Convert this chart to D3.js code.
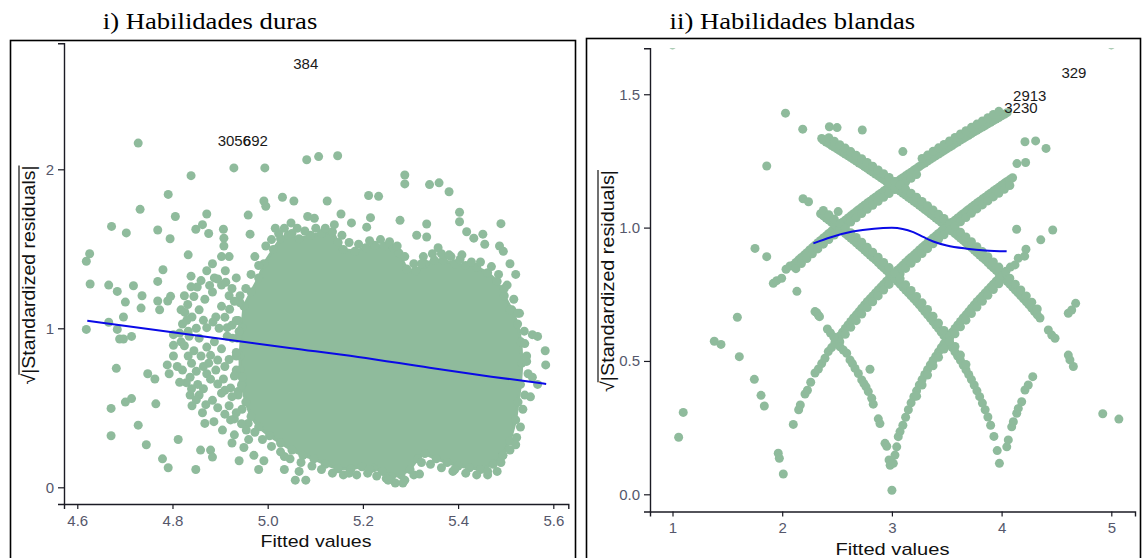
<!DOCTYPE html>
<html>
<head>
<meta charset="utf-8">
<script src="https://cdn.jsdelivr.net/npm/d3@7"></script>
<style>
  body { margin: 0; background: #fff; }
  svg { display: block; }
</style>
</head>
<body>
<svg id="chart" width="1142" height="558"></svg>
<script>
// ---------- axis ticks ----------
const durasXTicks = [4.6, 4.8, 5.0, 5.2, 5.4, 5.6];
const durasYTicks = [0, 1, 2];
const blandasXTicks = [1, 2, 3, 4, 5];
const blandasYTicks = [0, 0.5, 1.0, 1.5];

// ---------- i) Habilidades duras ----------
// outline of the overplotted mass of observations (fitted, sqrt|std resid|)
const durasCloudEdge = [
  [4.942,0.826],[4.946,1.004],[4.950,1.138],[4.965,1.228],[4.981,1.317],[4.992,1.406],[5.012,1.496],
  [5.027,1.563],[5.043,1.585],[5.066,1.563],[5.090,1.585],[5.113,1.596],[5.136,1.607],[5.148,1.540],
  [5.159,1.496],[5.183,1.484],[5.206,1.507],[5.225,1.522],[5.245,1.518],[5.264,1.507],[5.276,1.473],
  [5.292,1.373],[5.311,1.362],[5.330,1.406],[5.350,1.429],[5.369,1.429],[5.393,1.406],[5.416,1.395],
  [5.439,1.384],[5.462,1.350],[5.482,1.295],[5.497,1.205],[5.513,1.116],[5.525,1.027],[5.532,0.915],
  [5.534,0.781],[5.531,0.647],[5.526,0.536],[5.521,0.424],[5.509,0.290],[5.494,0.201],[5.474,0.145],
  [5.447,0.112],[5.424,0.123],[5.400,0.134],[5.377,0.156],[5.354,0.179],[5.330,0.212],[5.315,0.179],
  [5.299,0.112],[5.280,0.078],[5.260,0.067],[5.241,0.100],[5.222,0.123],[5.198,0.129],[5.175,0.116],
  [5.148,0.116],[5.121,0.145],[5.097,0.179],[5.074,0.201],[5.051,0.234],[5.027,0.279],[5.004,0.324],
  [4.981,0.379],[4.965,0.446],[4.954,0.536],[4.946,0.647],[4.942,0.737]
];
// observations along the rim of the mass
const durasRim = [
  [4.973,1.451],[4.996,1.518],[5.008,1.558],[5.023,1.596],[5.035,1.629],[5.051,1.596],[5.062,1.629],
  [5.078,1.612],[5.101,1.629],[5.121,1.629],[5.140,1.652],[5.156,1.585],[5.171,1.540],[5.191,1.529],
  [5.214,1.551],[5.237,1.558],[5.256,1.545],[5.272,1.518],[5.288,1.451],[5.307,1.406],[5.327,1.451],
  [5.346,1.469],[5.365,1.469],[5.385,1.451],[5.404,1.433],[5.428,1.417],[5.447,1.417],[5.470,1.388],
  [5.485,1.339],[5.503,1.272],[5.517,1.183],[5.529,1.094],[5.539,0.982],[5.544,0.826],[5.547,0.714],
  [5.540,0.580],[5.536,0.491],[5.531,0.379],[5.523,0.313],[5.509,0.234],[5.490,0.156],[5.462,0.078],
  [5.439,0.078],[5.416,0.089],[5.389,0.100],[5.365,0.123],[5.342,0.145],[5.323,0.156],[5.307,0.078],
  [5.288,0.045],[5.268,0.027],[5.249,0.056],[5.229,0.071],[5.210,0.089],[5.187,0.078],[5.159,0.078],
  [5.136,0.089],[5.113,0.112],[5.093,0.134],[5.070,0.156],[5.047,0.179],[5.027,0.223],[5.008,0.257],
  [4.989,0.301],[4.973,0.346],[4.959,0.402],[4.946,0.491],[4.938,0.603],[4.933,0.714],[4.934,0.826],
  [4.936,0.938],[4.938,1.049],[4.942,1.161],[4.954,1.250],[4.965,1.339],[4.981,1.395]
];
// looser group of observations left of the mass
const durasLeftGroup = [
  [4.821,1.027],[4.841,1.071],[4.856,1.116],[4.868,1.183],[4.884,1.228],[4.903,1.272],[4.919,1.205],
  [4.903,1.138],[4.891,1.071],[4.872,1.004],[4.856,0.938],[4.845,0.859],[4.860,0.826],[4.876,0.781],
  [4.891,0.737],[4.907,0.681],[4.922,0.625],[4.934,0.737],[4.919,0.804],[4.903,0.871],[4.888,0.915],
  [4.872,0.882],[4.833,0.826],[4.821,0.737],[4.837,0.692],[4.853,0.647],[4.872,0.714],[4.926,0.938],
  [4.915,1.004],[4.934,1.049],[4.872,1.362],[4.888,1.317],[4.911,1.362],[4.919,1.451],[4.884,1.406],
  [4.903,1.451],[4.934,1.317],[4.942,1.205],[4.825,1.205],[4.818,1.116],[4.833,0.982],[4.818,0.915],
  [4.934,0.848],[4.946,0.692],[4.938,0.580],[4.919,0.513],[4.837,0.580],[4.856,0.580],[4.802,0.826],
  [4.829,0.658],
  [4.826,1.100],[4.832,1.150],[4.845,1.200],[4.852,1.260],[4.860,1.300],[4.878,1.270],[4.895,1.310],
  [4.912,1.290],[4.925,1.250],[4.930,1.170],[4.920,1.120],[4.910,1.070],[4.925,1.020],[4.940,0.980],
  [4.915,0.950],[4.898,1.000],[4.885,1.040],[4.865,1.050],[4.850,1.000],[4.835,0.950],[4.825,0.890],
  [4.840,0.780],[4.850,0.730],[4.865,0.760],[4.880,0.830],[4.895,0.800],[4.910,0.760],[4.930,0.700],
  [4.945,0.640],[4.925,0.570],[4.910,0.610],[4.895,0.650],[4.880,0.680],[4.865,0.620],[4.850,0.550],
  [4.870,0.520],[4.895,0.500],[4.910,0.460],[4.930,0.430],[4.945,0.400],[4.955,0.360],[4.960,0.300],
  [4.950,0.250],[4.930,0.330],[4.905,0.360],[4.840,0.620],[4.815,0.660],[4.810,0.760],[4.815,0.970],
  [4.830,1.050]
];
// scattered observations
const durasScatter = [
  [4.728,2.165],[4.839,1.960],[4.929,2.009],[4.994,2.009],[5.082,2.060],[5.107,2.080],[5.147,2.085],
  [4.791,1.842],[4.732,1.748],[4.672,1.641],[4.703,1.600],[4.769,1.618],[4.806,1.703],[4.795,1.563],
  [4.849,1.623],[4.863,1.652],[4.872,1.719],[4.876,1.596],[4.907,1.623],[4.908,1.567],[4.908,1.518],
  [4.959,1.712],[4.963,1.592],[4.992,1.801],[4.996,1.768],[5.031,1.824],[5.055,1.801],[5.125,1.801],
  [5.084,1.703],[5.098,1.692],[5.049,1.663],[5.016,1.629],[5.154,1.719],[5.176,1.663],[5.212,1.835],
  [5.233,1.830],[5.216,1.696],[5.208,1.636],[5.278,1.679],[5.288,1.964],[5.288,1.908],[5.340,1.904],
  [5.360,1.915],[5.381,1.859],[5.334,1.656],[5.313,1.585],[5.334,1.574],[5.403,1.730],[5.403,1.670],
  [5.418,1.607],[5.490,1.658],[5.452,1.592],[5.433,1.567],[5.456,1.529],[5.487,1.518],[5.495,1.484],
  [5.509,1.406],[5.521,1.339],[5.358,1.507],[5.381,1.462],[5.408,1.462],[5.323,1.406],[5.497,1.250],
  [5.509,1.116],[5.525,1.094],[5.540,0.904],[5.556,0.960],[5.567,0.949],[5.583,0.859],[5.584,0.770],
  [5.544,0.792],[5.556,0.692],[5.552,0.569],[5.567,0.647],[5.521,0.268],[5.494,0.200],[5.462,0.100],
  [5.482,0.100],[5.393,0.112],[5.319,0.083],[5.284,0.027],[5.253,0.045],[5.214,0.112],[5.171,0.089],
  [5.058,0.045],[5.080,0.045],[5.035,0.112],[5.066,0.100],[5.035,0.194],
  [4.626,1.469],[4.619,1.422],[4.627,1.279],[4.619,0.993],[4.666,1.272],[4.684,1.232],[4.701,1.165],
  [4.697,1.071],[4.718,1.268],[4.736,1.205],[4.734,1.127],[4.666,1.038],[4.684,0.993],[4.689,0.933],
  [4.697,0.933],[4.714,0.949],[4.682,0.748],[4.671,0.496],[4.671,0.324],[4.701,0.536],[4.714,0.558],
  [4.728,0.391],[4.748,0.714],[4.763,0.681],[4.765,0.525],[4.745,0.268],[4.779,0.179],[4.791,0.123],
  [4.812,0.301],[4.789,0.770],[4.793,0.714],[4.802,0.893],[4.802,0.960],[4.769,1.295],[4.769,1.172],
  [4.773,1.116],[4.790,1.172],[4.796,1.201],[4.780,1.368],[4.833,1.462],[4.839,1.328],[4.839,1.261],
  [4.849,0.112],[4.859,0.234],[4.880,0.234],[4.884,0.190],[4.841,0.513],[4.863,0.469],[4.884,0.547],
  [4.903,0.592],[4.925,0.279],[4.940,0.167],[4.971,0.201],[4.992,0.167],[4.981,0.112],[4.922,0.424],
  [4.934,0.469],[4.887,0.413],[4.868,0.402]
];
// loess smooth
const durasSmoothX = [4.621, 4.800, 5.050, 5.190, 5.340, 5.470, 5.585];
const durasSmoothY = [1.048, 0.975, 0.875, 0.820, 0.752, 0.696, 0.650];
// labelled observations
const durasLabels = [
  { id: "384",  x: 5.080, y: 2.663 },
  { id: "3056", x: 4.930, y: 2.179 },
  { id: "692",  x: 4.974, y: 2.179 }
];

// ---------- ii) Habilidades blandas ----------
const blandasRiseA = [
  [1.919,0.791],[1.950,0.801],[1.995,0.810],[2.035,0.844],[2.071,0.856],
  [2.10,0.859],[2.15,0.879],[2.20,0.897],[2.25,0.916],[2.30,0.934],[2.35,0.952],[2.40,0.969],[2.45,0.987],
  [2.50,1.003],[2.55,1.020],[2.60,1.036],[2.65,1.052],[2.70,1.068],[2.75,1.084],[2.80,1.099],[2.85,1.114],
  [2.90,1.129],[2.95,1.144],[3.00,1.159],[3.05,1.173],[3.10,1.187],[3.15,1.201],[3.20,1.215],[3.25,1.229],
  [3.30,1.242],[3.35,1.256],[3.40,1.269],[3.45,1.282],[3.50,1.295],[3.55,1.308],[3.60,1.321],[3.65,1.334],
  [3.70,1.346],[3.75,1.359],[3.80,1.371],[3.85,1.383],[3.90,1.395],[3.95,1.407],[4.00,1.419],[4.05,1.431],
  [2.125,0.869],[2.175,0.888],[2.225,0.906],[2.275,0.925],[2.325,0.943],[2.375,0.961],[2.425,0.978],
  [2.475,0.995],[2.525,1.012],[2.575,1.028],[2.625,1.044],[2.675,1.060],[2.725,1.076],[2.775,1.092],
  [2.825,1.107],[2.875,1.122],[2.925,1.137],[2.975,1.151],[3.025,1.166],[3.075,1.180],[3.125,1.194],
  [3.175,1.208],[3.225,1.222],[3.275,1.236],[3.325,1.249],[3.375,1.263],[3.425,1.276],[3.475,1.289],
  [3.525,1.302],[3.575,1.315],[3.625,1.328],[3.675,1.340],[3.725,1.353],[3.775,1.365],[3.825,1.377],
  [3.875,1.389],[3.925,1.401],[3.975,1.413],[4.025,1.425],
  [2.125,0.846],[2.175,0.865],[2.225,0.884],[2.275,0.902],[2.325,0.920],[2.375,0.938],[2.425,0.955],
  [2.475,0.972],[2.525,0.989],[2.575,1.005],[2.625,1.021],[2.675,1.037],[2.725,1.053],[2.775,1.069],
  [2.825,1.084],[2.875,1.099],[2.925,1.114],[2.975,1.128],[3.025,1.143],[3.075,1.157],[3.125,1.171],
  [3.175,1.185],[3.225,1.199],[3.275,1.259],[3.325,1.272],[3.375,1.286],[3.425,1.299],[3.475,1.312],
  [3.525,1.325],[3.575,1.338],[3.625,1.351],[3.675,1.363],[3.725,1.376],[3.775,1.388],[3.825,1.400],
  [3.875,1.412],[3.925,1.424],[3.975,1.436]
];
const blandasFallA = [
  [2.36,1.334],[2.40,1.321],[2.45,1.308],[2.50,1.295],[2.55,1.282],[2.60,1.269],[2.65,1.256],[2.70,1.242],
  [2.75,1.229],[2.80,1.215],[2.85,1.201],[2.90,1.187],[2.95,1.173],[3.00,1.159],[3.05,1.144],[3.10,1.129],
  [3.15,1.114],[3.20,1.099],[3.25,1.084],[3.30,1.068],[3.35,1.052],[3.40,1.036],[3.45,1.020],[3.50,1.003],
  [3.55,0.987],[3.60,0.969],[3.65,0.952],[3.70,0.934],[3.75,0.916],[3.80,0.897],[3.85,0.879],[3.90,0.859],
  [3.95,0.840],[4.00,0.819],[4.05,0.799],[4.10,0.777],[4.15,0.755],[4.20,0.733],[4.25,0.710],[4.30,0.685],
  [4.35,0.661],[4.426,0.616],[4.457,0.597],[4.487,0.585],[4.608,0.522],[4.623,0.504],[4.654,0.479],
  [2.375,1.328],[2.425,1.315],[2.475,1.302],[2.525,1.289],[2.575,1.276],[2.625,1.263],[2.675,1.249],
  [2.725,1.236],[2.775,1.222],[2.825,1.208],[2.875,1.194],[2.925,1.180],[2.975,1.166],[3.025,1.151],
  [3.075,1.137],[3.125,1.122],[3.175,1.107],[3.225,1.092],[3.275,1.076],[3.325,1.060],[3.375,1.044],
  [3.425,1.028],[3.475,1.012],[3.525,0.995],[3.575,0.978],[3.625,0.961],[3.675,0.943],[3.725,0.925],
  [3.775,0.906],[3.825,0.888],[3.875,0.869],[3.925,0.849],[3.975,0.830],[4.025,0.809],[4.075,0.788],
  [4.125,0.766],[4.175,0.744],[4.225,0.722],[4.275,0.698],[4.325,0.673],
  [2.425,1.337],[2.475,1.324],[2.525,1.311],[2.575,1.298],[2.625,1.285],[2.675,1.271],[2.725,1.258],
  [2.775,1.244],[2.825,1.230],[2.875,1.216],[2.925,1.202],[2.975,1.188],[3.025,1.173],[3.075,1.159],
  [3.125,1.144],[3.175,1.129],[3.225,1.114],[3.275,1.098],[3.325,1.082],[3.375,1.066],[3.425,1.050],
  [3.475,1.034],[3.525,1.017],[3.575,1.000],[3.625,0.983],[3.675,0.965],[3.725,0.947],[3.775,0.928],
  [3.825,0.910],[3.875,0.891],[3.925,0.871],[3.975,0.852],[4.025,0.831],[4.075,0.810],[4.125,0.788],
  [4.175,0.766],[4.225,0.744],[4.275,0.720],[4.325,0.695]
];
const blandasRiseB = [
  [2.101,0.262],[2.150,0.317],[2.165,0.335],[2.208,0.376],[2.230,0.390],[2.260,0.420],[2.299,0.455],
  [2.330,0.470],[2.360,0.490],[2.390,0.510],[2.420,0.535],[2.450,0.550],[2.480,0.568],
  [2.50,0.579],[2.55,0.608],[2.60,0.635],[2.65,0.661],[2.70,0.685],[2.75,0.710],[2.80,0.733],[2.85,0.755],
  [2.90,0.777],[2.95,0.799],[3.00,0.819],[3.05,0.840],[3.10,0.859],[3.15,0.879],[3.20,0.897],[3.25,0.916],
  [3.30,0.934],[3.35,0.952],[3.40,0.969],[3.45,0.987],[3.50,1.003],[3.55,1.020],[3.60,1.036],[3.65,1.052],
  [3.70,1.068],[3.75,1.084],[3.80,1.099],[3.85,1.114],[3.90,1.129],[3.95,1.144],[4.00,1.159],[4.05,1.173],
  [4.10,1.187],
  [2.525,0.594],[2.575,0.622],[2.625,0.648],[2.675,0.673],[2.725,0.698],[2.775,0.722],[2.825,0.744],
  [2.875,0.766],[2.925,0.788],[2.975,0.809],[3.025,0.830],[3.075,0.849],[3.125,0.869],[3.175,0.888],
  [3.225,0.906],[3.275,0.925],[3.325,0.943],[3.375,0.961],[3.425,0.978],[3.475,0.995],[3.525,1.012],
  [3.575,1.028],[3.625,1.044],[3.675,1.060],[3.725,1.076],[3.775,1.092],[3.825,1.107],[3.875,1.122],
  [3.925,1.137],[3.975,1.151],[4.025,1.166],[4.075,1.180],
  [2.525,0.572],[2.575,0.600],[2.625,0.626],[2.675,0.651],[2.725,0.676],[2.775,0.700],[2.825,0.722],
  [2.875,0.744],[2.925,0.766],[2.975,0.787],[3.025,0.808],[3.075,0.827],[3.125,0.847],[3.175,0.866],
  [3.225,0.884],[3.275,0.903],[3.325,0.921],[3.375,0.939],[3.425,0.956],[3.475,0.973],[3.525,0.990],
  [3.575,1.006],[3.625,1.022],[3.675,1.038],[3.725,1.054],[3.775,1.070],[3.825,1.085],[3.875,1.100],
  [3.925,1.115],[3.975,1.129],[4.025,1.144],[4.075,1.158]
];
const blandasFallB = [
  [2.190,1.108],[2.240,1.097],
  [2.35,1.052],[2.40,1.036],[2.45,1.020],[2.50,1.003],[2.55,0.987],[2.60,0.969],[2.65,0.952],[2.70,0.934],
  [2.75,0.916],[2.80,0.897],[2.85,0.879],[2.90,0.859],[2.95,0.840],[3.00,0.819],[3.05,0.799],[3.10,0.777],
  [3.15,0.755],[3.20,0.733],[3.25,0.710],[3.30,0.685],[3.35,0.661],[3.40,0.635],[3.45,0.608],[3.50,0.579],
  [3.55,0.550],[3.60,0.518],[3.65,0.485],[3.70,0.449],[3.75,0.410],[3.80,0.366],[3.85,0.317],[3.90,0.259],
  [3.93,0.217],[3.96,0.164],[3.98,0.116],
  [2.375,1.044],[2.425,1.028],[2.475,1.012],[2.525,0.995],[2.575,0.978],[2.625,0.961],[2.675,0.943],
  [2.725,0.925],[2.775,0.906],[2.825,0.888],[2.875,0.869],[2.925,0.849],[2.975,0.830],[3.025,0.809],
  [3.075,0.788],[3.125,0.766],[3.175,0.744],[3.225,0.722],[3.275,0.698],[3.325,0.673],[3.375,0.648],
  [3.425,0.622],[3.475,0.594],[3.525,0.565],[3.575,0.534],[3.625,0.502],[3.675,0.467],[3.725,0.430],
  [3.775,0.388],[3.825,0.342],[3.875,0.290],
  [2.375,1.064],[2.425,1.048],[2.475,1.032],[2.525,1.015],[2.575,0.998],[2.625,0.981],[2.675,0.963],
  [2.725,0.945],[2.775,0.926],[2.825,0.908],[2.875,0.889],[2.925,0.869],[2.975,0.850],[3.025,0.829],
  [3.075,0.808],[3.125,0.786],[3.175,0.764],[3.225,0.742],[3.275,0.718],[3.325,0.693],[3.375,0.668],
  [3.425,0.642],[3.475,0.614],[3.525,0.585],[3.575,0.554],[3.625,0.522],[3.675,0.487]
];
const blandasRiseC = [
  [3.013,0.116],[3.028,0.147],[3.044,0.178],[3.058,0.216],[3.074,0.235],
  [3.10,0.259],[3.15,0.317],[3.20,0.366],[3.25,0.410],[3.30,0.449],[3.35,0.485],[3.40,0.518],[3.45,0.550],
  [3.50,0.579],[3.55,0.608],[3.60,0.635],[3.65,0.661],[3.70,0.685],[3.75,0.710],[3.80,0.733],[3.85,0.755],
  [3.90,0.777],[3.95,0.799],[4.00,0.819],
  [4.040,0.836],[4.080,0.852],[4.122,0.860],[4.152,0.885],[4.210,0.893],[4.222,0.919],
  [3.125,0.289],[3.175,0.343],[3.225,0.388],[3.275,0.430],[3.325,0.467],[3.375,0.502],[3.425,0.534],
  [3.475,0.565],[3.525,0.594],[3.575,0.622],[3.625,0.648],[3.675,0.673],[3.725,0.698],[3.775,0.722],
  [3.825,0.744],[3.875,0.766],[3.925,0.788],[3.975,0.809],
  [3.225,0.368],[3.275,0.410],[3.325,0.447],[3.375,0.482],[3.425,0.514],[3.475,0.545],[3.525,0.574],
  [3.575,0.602],[3.625,0.628],[3.675,0.653],[3.725,0.678],[3.775,0.702],[3.825,0.724],[3.875,0.746],
  [3.925,0.768],[3.975,0.789]
];
const blandasFallC = [
  [2.134,0.761],[2.299,0.685],[2.314,0.681],[2.329,0.672],[2.340,0.666],[2.412,0.620],[2.440,0.605],
  [2.470,0.590],[2.527,0.553],[2.557,0.541],[2.588,0.529],[2.618,0.504],[2.640,0.490],[2.664,0.472],
  [2.694,0.453],[2.725,0.429],[2.745,0.415],[2.764,0.403],[2.785,0.385],[2.816,0.360],[2.830,0.338],
  [2.876,0.283],[2.891,0.265],[2.937,0.191],[2.953,0.180],[2.974,0.129],[2.984,0.109],[3.000,0.015]
];
const blandasRiseD = [
  [4.047,0.178],[4.061,0.204],[4.092,0.253],[4.107,0.272],[4.138,0.304],[4.152,0.322],[4.183,0.347],
  [4.213,0.391],[4.243,0.410],[4.284,0.441],[4.608,0.679],[4.639,0.691],[4.675,0.716]
];
const blandasScatter = [
  [1.000,1.685],[5.000,1.685],[2.030,1.429],[2.187,1.369],[2.430,1.378],[2.500,1.375],[2.730,1.366],
  [3.100,1.285],[1.859,1.231],[4.213,1.322],[4.310,1.325],[4.405,1.297],[4.140,1.240],[4.219,1.244],
  [2.510,1.060],[1.752,0.922],[1.859,0.891],[1.591,0.664],[1.381,0.574],[1.442,0.562],[1.609,0.516],
  [1.746,0.431],[1.807,0.371],[1.837,0.331],[1.098,0.307],[1.056,0.214],[1.964,0.154],[1.974,0.135],
  [2.010,0.076],[2.800,0.469],[4.137,0.994],[4.357,0.954],[4.466,0.991],[4.922,0.302],[5.069,0.282]
];
const blandasSmoothX = [2.284, 2.444, 2.641, 2.837, 3.000, 3.098, 3.195, 3.290, 3.377, 3.500, 3.682, 3.850, 4.046];
const blandasSmoothY = [0.941, 0.964, 0.985, 0.996, 0.999, 0.995, 0.983, 0.964, 0.948, 0.933, 0.921, 0.914, 0.911];
const blandasLabels = [
  { id: "329",  x: 4.659, y: 1.583 },
  { id: "2913", x: 4.257, y: 1.496 },
  { id: "3230", x: 4.176, y: 1.450 }
];

// ---------- drawing ----------
const POINT = "#8fbb9c";
const LINE = "#0a0ae6";
const TICKTXT = "#55576b";
const R = 4.5;
const svg = d3.select("#chart");
const sans = "'Liberation Sans', Arial, Helvetica, sans-serif";
const serif = "'Liberation Serif', 'Times New Roman', serif";

function panel(cfg) {
  const g = svg.append("g");
  g.append("rect").attr("x", cfg.box[0]).attr("y", cfg.box[1])
    .attr("width", cfg.box[2]).attr("height", cfg.box[3])
    .attr("fill", "none").attr("stroke", "#000").attr("stroke-width", 1.6);

  g.append("text").attr("x", cfg.title[0]).attr("y", cfg.title[1])
    .attr("font-family", serif).attr("font-size", 23).attr("fill", "#000")
    .attr("textLength", cfg.title[2]).attr("lengthAdjust", "spacingAndGlyphs")
    .text(cfg.titleText);

  const x = d3.scaleLinear().domain(cfg.xDomain).range(cfg.xRange);
  const y = d3.scaleLinear().domain(cfg.yDomain).range(cfg.yRange);

  const clipId = "clip" + cfg.id;
  svg.append("clipPath").attr("id", clipId).append("rect")
    .attr("x", cfg.xRange[0]).attr("y", cfg.yRange[1])
    .attr("width", cfg.xRange[1] - cfg.xRange[0]).attr("height", cfg.yRange[0] - cfg.yRange[1]);
  const plot = g.append("g").attr("clip-path", `url(#${clipId})`);

  if (cfg.cloud) {
    plot.append("path").datum(cfg.cloud)
      .attr("d", d3.line().x(d => x(d[0])).y(d => y(d[1])).curve(d3.curveLinearClosed))
      .attr("fill", POINT).attr("stroke", POINT).attr("stroke-width", 3).attr("stroke-linejoin", "round");
  }
  plot.selectAll("circle.pt").data(cfg.points).join("circle").attr("class", "pt")
    .attr("cx", d => x(d[0])).attr("cy", d => y(d[1])).attr("r", R).attr("fill", POINT);

  const smooth = cfg.smoothX.map((v, i) => [v, cfg.smoothY[i]]);
  plot.append("path").datum(smooth)
    .attr("d", d3.line().x(d => x(d[0])).y(d => y(d[1])).curve(d3.curveMonotoneX))
    .attr("fill", "none").attr("stroke", LINE).attr("stroke-width", 2);

  plot.selectAll("text.lab").data(cfg.labels).join("text").attr("class", "lab")
    .attr("x", d => x(d.x)).attr("y", d => y(d.y)).attr("dy", "0.36em")
    .attr("text-anchor", "middle").attr("font-family", sans).attr("font-size", 15)
    .attr("fill", "#1a1a1a").text(d => d.id);

  const xa = g.append("g").attr("transform", `translate(0,${cfg.yRange[0]})`)
    .call(d3.axisBottom(x).tickValues(cfg.xTicks).tickFormat(cfg.xFmt).tickSizeOuter(0).tickSize(5).tickPadding(6));
  const ya = g.append("g").attr("transform", `translate(${cfg.xRange[0]},0)`)
    .call(d3.axisLeft(y).tickValues(cfg.yTicks).tickFormat(cfg.yFmt).tickSizeOuter(0).tickSize(6).tickPadding(4));
  [xa, ya].forEach(a => {
    a.select(".domain").attr("stroke", "#1b1b24").attr("stroke-width", 1.4);
    a.selectAll(".tick line").attr("stroke", "#1b1b24").attr("stroke-width", 1.2);
    a.selectAll(".tick text").attr("fill", TICKTXT).attr("font-family", sans).attr("font-size", 15);
  });

  g.append("text").attr("x", cfg.xTitle[0]).attr("y", cfg.xTitle[1]).attr("text-anchor", "middle")
    .attr("font-family", sans).attr("font-size", 17).attr("fill", "#111")
    .attr("textLength", cfg.xTitle[2]).attr("lengthAdjust", "spacingAndGlyphs")
    .text("Fitted values");

  // sqrt(|Standardized residuals|) with an overline bar
  const tr = `translate(${cfg.yTitle[0]},${cfg.yTitle[1]}) rotate(-90)`;
  const yt = g.append("text").attr("transform", tr).attr("text-anchor", "middle")
    .attr("font-family", sans).attr("font-size", 18.5).attr("fill", "#111")
    .attr("textLength", cfg.yTitle[2]).attr("lengthAdjust", "spacingAndGlyphs");
  yt.append("tspan").text("\u221A");
  yt.append("tspan").text("|Standardized residuals|");
  const n = yt.node();
  const s = n.getStartPositionOfChar(1), e = n.getEndPositionOfChar(n.getNumberOfChars() - 1);
  g.append("line").attr("transform", tr).attr("x1", s.x - 1).attr("x2", e.x)
    .attr("y1", -16).attr("y2", -16).attr("stroke", "#111").attr("stroke-width", 1.2);
}

panel({
  id: "duras",
  box: [10.5, 40.5, 565, 540],
  titleText: "i) Habilidades duras", title: [102.8, 29, 214.5],
  xDomain: [4.5721, 5.6315], xRange: [64, 568.3],
  yDomain: [-0.105, 2.7925], yRange: [504, 43.3],
  xTicks: durasXTicks, yTicks: durasYTicks,
  xFmt: d3.format(".1f"), yFmt: d3.format("d"),
  cloud: durasCloudEdge,
  points: [...durasCloudEdge, ...durasRim, ...durasLeftGroup, ...durasScatter],
  smoothX: durasSmoothX, smoothY: durasSmoothY,
  labels: durasLabels,
  xTitle: [316, 546.7, 111], yTitle: [35, 275, 219]
});

panel({
  id: "blandas",
  box: [586.5, 38.5, 554, 540],
  titleText: "ii) Habilidades blandas", title: [669.6, 29, 245.5],
  xDomain: [0.7949, 5.216], xRange: [650, 1135],
  yDomain: [-0.0645, 1.6723], yRange: [511.5, 48.3],
  xTicks: blandasXTicks, yTicks: blandasYTicks,
  xFmt: d3.format("d"), yFmt: d3.format(".1f"),
  cloud: null,
  points: [...blandasRiseA, ...blandasFallA, ...blandasRiseB, ...blandasFallB,
           ...blandasRiseC, ...blandasFallC, ...blandasRiseD, ...blandasScatter],
  smoothX: blandasSmoothX, smoothY: blandasSmoothY,
  labels: blandasLabels,
  xTitle: [892.5, 554.5, 114], yTitle: [614, 281, 222]
});
</script>
</body>
</html>
